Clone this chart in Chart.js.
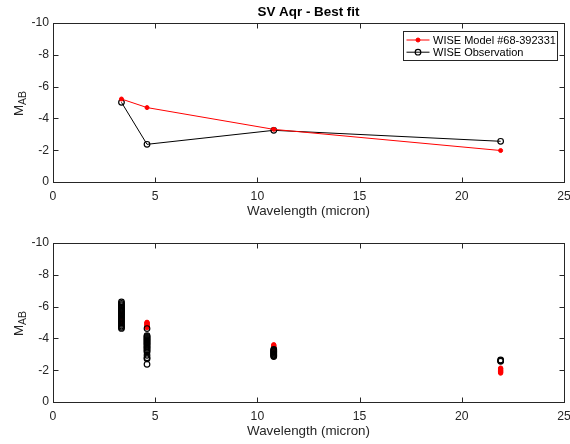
<!DOCTYPE html>
<html>
<head>
<meta charset="utf-8">
<title>SV Aqr - Best fit</title>
<script src="https://cdn.jsdelivr.net/npm/chart.js@4.4.1/dist/chart.umd.min.js"></script>
<style>
  body { margin: 0; background: #fff; }
  .panel { position: absolute; left: 0; width: 570px; height: 222px; }
</style>
</head>
<body>
<div class="panel" style="top:0"><canvas id="fitChart" width="570" height="222"></canvas></div>
<div class="panel" style="top:220px"><canvas id="allChart" width="570" height="222"></canvas></div>
<script>
// WISE band centres (micron)
const wiseBands = [3.35, 4.6, 10.8, 21.9];

// best fitting model vs. mean observation
const bestModelMag = [-5.22, -4.68, -3.31, -1.98];
const observedMag = [-5.01, -2.37, -3.25, -2.56];

// every epoch, one list per band
const modelW1 = [-5.05, -5.12, -5.18, -5.22, -5.28, -5.33, -5.4, -5.46, -5.52, -5.56];
const modelW2 = [-4.68, -4.74, -4.79, -4.84, -4.88, -4.93, -4.98, -5.01];
const modelW3 = [-3.36, -3.41, -3.45, -3.5, -3.55, -3.6];
const modelW4 = [-1.82, -1.87, -1.92, -1.97, -2.02, -2.08, -2.13];

const obsW1 = [-6.3, -6.2, -6.12, -6.05, -5.97, -5.9, -5.83, -5.76, -5.7, -5.62, -5.55, -5.48,
               -5.4, -5.32, -5.24, -5.15, -5.06, -4.97, -4.88, -4.78, -4.7, -4.63];
const obsW2 = [-4.62, -4.18, -4.12, -4.06, -4.0, -3.94, -3.88, -3.82, -3.76, -3.7, -3.64, -3.58,
               -3.5, -3.44, -3.38, -3.3, -3.22, -3.15, -2.94, -2.78, -2.72, -2.37];
const obsW3 = [-2.86, -2.91, -2.96, -3.01, -3.06, -3.11, -3.16, -3.21, -3.26, -3.31];
const obsW4 = [-2.56, -2.6, -2.64];

const xTicks = [0, 5, 10, 15, 20, 25];
const yTicks = [-10, -8, -6, -4, -2, 0];

const RED = '#ff0000';
const BLACK = '#000000';
const AXIS = '#262626';
const FONT = '"Liberation Sans", Arial, Helvetica, sans-serif';

function toPoints(xs, ys) {
  return ys.map((v, i) => ({ x: xs[i], y: v }));
}

function bandPoints(lists) {
  const pts = [];
  lists.forEach((list, b) => list.forEach((v) => pts.push({ x: wiseBands[b], y: v })));
  return pts;
}

// MATLAB-like frame: box, inward ticks, titles, subscripted ylabel, legend
const matlabFrame = {
  id: 'matlabFrame',
  afterDraw(chart, args, opts) {
    const { ctx, chartArea: a, scales } = chart;
    const L = Math.round(a.left) + 0.5, R = Math.round(a.right) + 0.5;
    const T = Math.round(a.top) + 0.5, B = Math.round(a.bottom) + 0.5;
    ctx.save();
    ctx.strokeStyle = AXIS;
    ctx.lineWidth = 1;
    ctx.strokeRect(L, T, R - L, B - T);

    const tl = 5;
    ctx.beginPath();
    scales.x.ticks.forEach((t) => {
      const px = Math.round(scales.x.getPixelForValue(t.value)) + 0.5;
      ctx.moveTo(px, B); ctx.lineTo(px, B - tl);
      ctx.moveTo(px, T); ctx.lineTo(px, T + tl);
    });
    scales.y.ticks.forEach((t) => {
      const py = Math.round(scales.y.getPixelForValue(t.value)) + 0.5;
      ctx.moveTo(L, py); ctx.lineTo(L + tl, py);
      ctx.moveTo(R, py); ctx.lineTo(R - tl, py);
    });
    ctx.stroke();

    const cx = (a.left + a.right) / 2;
    ctx.fillStyle = AXIS;
    ctx.textAlign = 'center';
    ctx.textBaseline = 'middle';

    if (opts.title) {
      ctx.fillStyle = '#000';
      ctx.font = `bold 13.4px ${FONT}`;
      ctx.fillText(opts.title, cx, a.top - 10.5);
      ctx.fillStyle = AXIS;
    }

    ctx.font = `13.4px ${FONT}`;
    ctx.fillText('Wavelength (micron)', cx, a.bottom + 29);

    // M_AB, rotated
    ctx.save();
    ctx.translate(18, (a.top + a.bottom) / 2 + 1);
    ctx.rotate(-Math.PI / 2);
    ctx.textAlign = 'left';
    ctx.textBaseline = 'alphabetic';
    ctx.font = `13.4px ${FONT}`;
    const mW = ctx.measureText('M').width;
    ctx.font = `10.5px ${FONT}`;
    const subW = ctx.measureText('AB').width;
    const start = -(mW + subW) / 2;
    ctx.font = `13.4px ${FONT}`;
    ctx.fillText('M', start, 5);
    ctx.font = `10.5px ${FONT}`;
    ctx.fillText('AB', start + mW, 8);
    ctx.restore();

    if (opts.legend) {
      const ds = chart.data.datasets;
      const bw = 154, rowH = 12.2;
      const bh = 29;
      const bx = Math.round(a.right - 7 - bw) + 0.5;
      const by = Math.round(a.top + 8) + 0.5;
      ctx.fillStyle = '#fff';
      ctx.fillRect(bx, by, bw, bh);
      ctx.strokeStyle = AXIS;
      ctx.strokeRect(bx, by, bw, bh);
      ctx.font = `11px ${FONT}`;
      ctx.textAlign = 'left';
      ctx.textBaseline = 'middle';
      ds.forEach((d, i) => {
        const ry = by + 8.5 + i * rowH;
        ctx.strokeStyle = d.borderColor;
        ctx.lineWidth = 1;
        ctx.beginPath();
        ctx.moveTo(bx + 3, ry); ctx.lineTo(bx + 26, ry);
        ctx.stroke();
        ctx.beginPath();
        ctx.arc(bx + 14.5, ry, d.pointRadius, 0, Math.PI * 2);
        if (d.pointBackgroundColor !== 'rgba(0,0,0,0)') {
          ctx.fillStyle = d.pointBackgroundColor;
          ctx.fill();
        }
        ctx.lineWidth = d.pointBorderWidth;
        ctx.strokeStyle = d.pointBorderColor;
        ctx.stroke();
        ctx.fillStyle = '#000';
        ctx.fillText(d.label, bx + 29.5, ry + 0.5);
      });
    }
    ctx.restore();
  }
};

function axisOptions() {
  return {
    x: {
      type: 'linear',
      min: 0,
      max: 25,
      afterBuildTicks: (scale) => { scale.ticks = xTicks.map((v) => ({ value: v })); },
      afterFit: (scale) => {
        scale.height = 40;
        scale.paddingLeft = 0;
        scale.paddingRight = 0;
      },
      grid: { display: false, drawTicks: false },
      border: { display: false },
      ticks: { color: AXIS, font: { family: FONT, size: 12.2 }, padding: 7, maxRotation: 0 },
    },
    y: {
      type: 'linear',
      reverse: true,
      min: -10,
      max: 0,
      afterBuildTicks: (scale) => { scale.ticks = yTicks.map((v) => ({ value: v })); },
      afterFit: (scale) => {
        scale.width = 53;
        scale.paddingTop = 0;
        scale.paddingBottom = 0;
      },
      grid: { display: false, drawTicks: false },
      border: { display: false },
      ticks: { color: AXIS, font: { family: FONT, size: 12.2 }, padding: 4 },
    },
  };
}

const baseOptions = (frame) => ({
  responsive: false,
  animation: false,
  layout: { padding: { top: 23, right: 6, left: 0, bottom: 0 } },
  scales: axisOptions(),
  plugins: {
    legend: { display: false },
    tooltip: { enabled: false },
    matlabFrame: frame,
  },
});

new Chart(document.getElementById('fitChart'), {
  type: 'scatter',
  data: {
    datasets: [
      {
        label: 'WISE Model #68-392331',
        data: toPoints(wiseBands, bestModelMag),
        showLine: true,
        borderColor: RED,
        borderWidth: 1,
        pointRadius: 2,
        pointBackgroundColor: RED,
        pointBorderColor: RED,
        pointBorderWidth: 1,
      },
      {
        label: 'WISE Observation',
        data: toPoints(wiseBands, observedMag),
        showLine: true,
        borderColor: BLACK,
        borderWidth: 1,
        pointRadius: 2.8,
        pointBackgroundColor: 'rgba(0,0,0,0)',
        pointBorderColor: BLACK,
        pointBorderWidth: 1.2,
      },
    ],
  },
  options: baseOptions({ title: 'SV Aqr - Best fit', legend: true }),
  plugins: [matlabFrame],
});

new Chart(document.getElementById('allChart'), {
  type: 'scatter',
  data: {
    datasets: [
      {
        label: 'Observation',
        order: 0,
        data: bandPoints([obsW1, obsW2, obsW3, obsW4]),
        pointRadius: 2.8,
        pointBackgroundColor: 'rgba(0,0,0,0)',
        pointBorderColor: BLACK,
        pointBorderWidth: 1.2,
      },
      {
        label: 'Model',
        order: 1,
        data: bandPoints([modelW1, modelW2, modelW3, modelW4]),
        pointRadius: 2.2,
        pointBackgroundColor: RED,
        pointBorderColor: RED,
        pointBorderWidth: 1,
      },
    ],
  },
  options: baseOptions({ legend: false }),
  plugins: [matlabFrame],
});
</script>
</body>
</html>
